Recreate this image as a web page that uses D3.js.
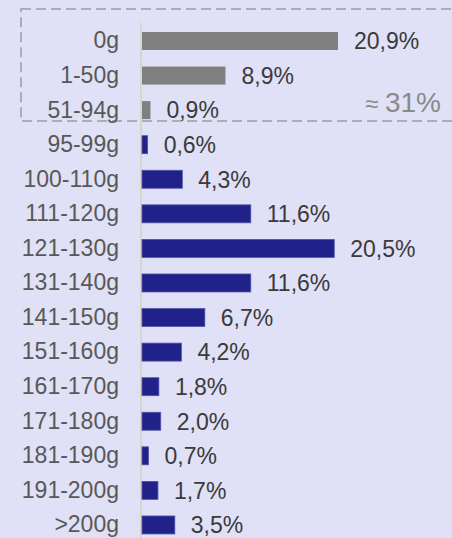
<!DOCTYPE html>
<html>
<head>
<meta charset="utf-8">
<script src="https://cdn.jsdelivr.net/npm/d3@7"></script>
<style>
  html, body { margin: 0; padding: 0; background: #e0e0f6; }
  svg { display: block; font-family: "Liberation Sans", Arial, sans-serif; }
</style>
</head>
<body>
<div id="chart"></div>
<script>
const categories = ['0g', '1-50g', '51-94g', '95-99g', '100-110g', '111-120g', '121-130g',
  '131-140g', '141-150g', '151-160g', '161-170g', '171-180g', '181-190g', '191-200g', '>200g']
const shares = [20.9, 8.9, 0.9, 0.6, 4.3, 11.6, 20.5, 11.6, 6.7, 4.2, 1.8, 2.0, 0.7, 1.7, 3.5]
const underweight = ['0g', '1-50g', '51-94g']
const underweightTotal = '31%'

const WIDTH = 452
const HEIGHT = 538

const data = categories.map((c, i) => ({ name: c, value: shares[i] }))

const svg = d3.select('#chart')
  .append('svg')
    .attr('width', WIDTH)
    .attr('height', HEIGHT)

svg.append('rect')
  .attr('width', WIDTH)
  .attr('height', HEIGHT)
  .attr('fill', '#e0e0f6')

const y = d3.scaleBand()
  .domain(categories)
  .range([23.7, 23.7 + 34.57 * categories.length])
  .paddingInner(0.48)
  .paddingOuter(0.24)

const x = d3.scaleLinear()
  .domain([0, 20.9])
  .range([142, 338])

// dashed frame round the first three rows
const boxTop = y(underweight[0]) - 23
const boxBottom = y(underweight[underweight.length - 1]) + y.bandwidth() + 2
svg.append('rect')
  .attr('x', 21)
  .attr('y', boxTop)
  .attr('width', WIDTH)
  .attr('height', boxBottom - boxTop)
  .attr('fill', 'none')
  .attr('stroke', '#9a9a9a')
  .attr('stroke-width', 1.5)
  .attr('stroke-dasharray', '10,5')

const yAxis = d3.axisLeft(y).tickSize(0).tickPadding(22)
const gy = svg.append('g')
  .attr('transform', 'translate(141, 0)')
  .call(yAxis)
gy.select('.domain')
  .attr('stroke', '#d6d6cc')
  .attr('stroke-width', 2)
  .attr('d', `M0,${y.range()[0] - 1}V${HEIGHT}`)
gy.selectAll('text')
  .attr('fill', '#585858')
  .style('font-size', '23px')
  .style('font-family', '"Liberation Sans", Arial, sans-serif')

svg.selectAll('rect.bar')
  .data(data)
  .enter()
  .append('rect')
    .attr('class', 'bar')
    .attr('x', x(0))
    .attr('y', d => y(d.name))
    .attr('width', d => x(d.value) - x(0))
    .attr('height', y.bandwidth())
    .attr('fill', d => underweight.includes(d.name) ? '#808080' : '#21218a')
    .attr('stroke', d => underweight.includes(d.name) ? 'none' : '#5454a8')
    .attr('stroke-width', 0.8)

svg.selectAll('text.value')
  .data(data)
  .enter()
  .append('text')
    .attr('class', 'value')
    .attr('x', d => x(d.value) + 16)
    .attr('y', d => y(d.name) + y.bandwidth() / 2)
    .attr('dy', '0.36em')
    .attr('fill', '#3a3a3a')
    .style('font-size', '23px')
    .text(d => d.value.toFixed(1).replace('.', ',') + '%')

const note = svg.append('text')
  .attr('x', 441)
  .attr('y', y(underweight[2]) + y.bandwidth() / 2 + 2)
  .attr('text-anchor', 'end')
  .attr('fill', '#8a8a8a')
note.append('tspan').style('font-size', '24px').text('≈ ')
note.append('tspan').style('font-size', '28px').text(underweightTotal)
</script>
</body>
</html>
